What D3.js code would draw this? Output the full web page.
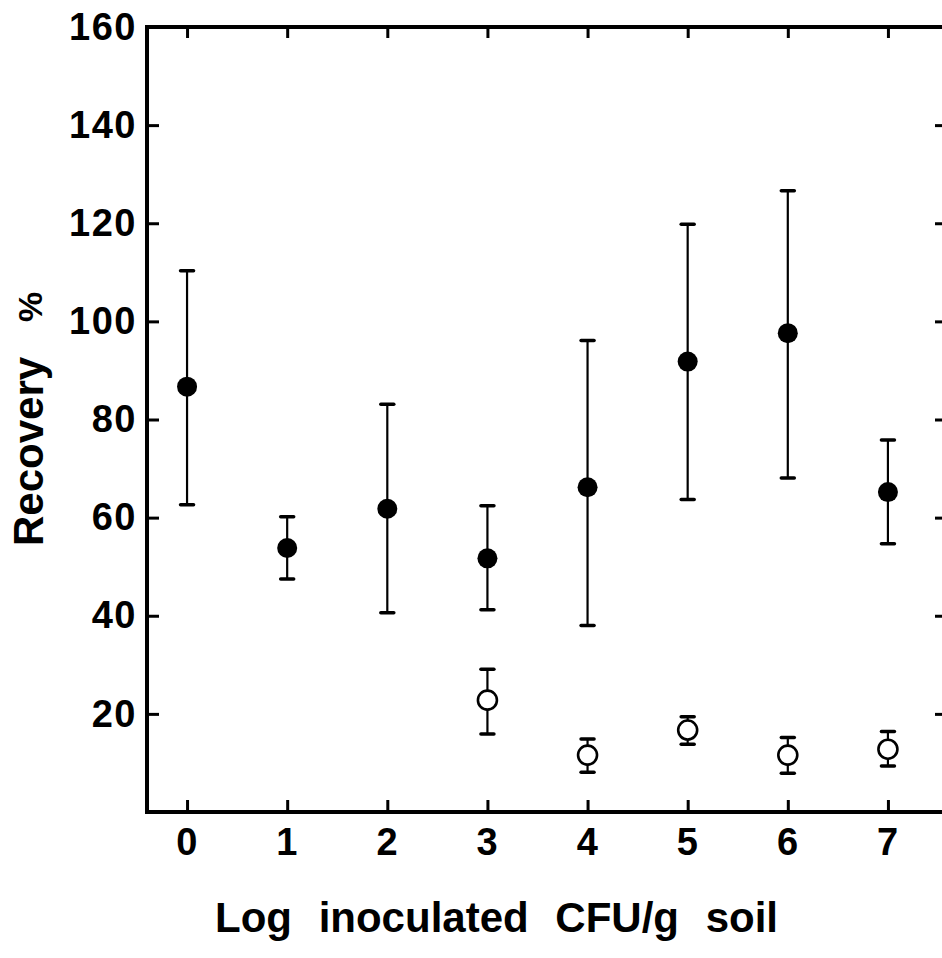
<!DOCTYPE html>
<html>
<head>
<meta charset="utf-8">
<script src="https://cdn.jsdelivr.net/npm/d3@7"></script>
<style>
  html, body { margin: 0; padding: 0; background: #fff; }
  svg { display: block; }
  text { font-family: "Liberation Sans", Arial, sans-serif; font-weight: bold; fill: #000; }
</style>
</head>
<body>
<svg id="chart" width="942" height="958"></svg>
<script>
// ---- data ----
const xCategories = [0, 1, 2, 3, 4, 5, 6, 7];
const filledMean = [86.7, 53.8, 61.8, 51.7, 66.2, 91.8, 97.6, 65.2];
const filledHi   = [110.3, 60.2, 83.1, 62.4, 96.1, 119.8, 126.6, 75.8];
const filledLo   = [62.6, 47.5, 40.6, 41.2, 38.0, 63.7, 68.1, 54.7];
const openX      = [3, 4, 5, 6, 7];
const openMean   = [22.8, 11.6, 16.7, 11.6, 12.8];
const openHi     = [29.1, 14.9, 19.4, 15.2, 16.4];
const openLo     = [15.9, 8.1, 13.8, 7.9, 9.4];
const yTickValues = [20, 40, 60, 80, 100, 120, 140, 160];
const xTickValues = [0, 1, 2, 3, 4, 5, 6, 7];
const xTitle = "Log inoculated CFU/g soil";
const yTitle = "Recovery";
const yUnit = "%";

// ---- layout ----
const plotLeft = 147, plotRight = 946, plotTop = 27, plotBottom = 812;
const svg = d3.select("#chart");

const x = d3.scaleLinear().domain([-0.4, 7.58]).range([plotLeft, plotRight]);
const y = d3.scaleLinear().domain([0, 160]).range([plotBottom, plotTop]);

// axes
const gLeft = svg.append("g").attr("transform", `translate(${plotLeft},0)`)
  .call(d3.axisLeft(y).tickValues(yTickValues).tickSizeInner(-12).tickSizeOuter(0).tickPadding(10));
const gRight = svg.append("g").attr("transform", `translate(${plotRight},0)`)
  .call(d3.axisRight(y).tickValues(yTickValues).tickSizeInner(-11).tickSizeOuter(0).tickFormat(""));
const gBottom = svg.append("g").attr("transform", `translate(0,${plotBottom})`)
  .call(d3.axisBottom(x).tickValues(xTickValues).tickSizeInner(-12).tickSizeOuter(0).tickPadding(16));
const gTop = svg.append("g").attr("transform", `translate(0,${plotTop})`)
  .call(d3.axisTop(x).tickValues(xTickValues).tickSizeInner(-11).tickSizeOuter(0).tickFormat(""));

[gLeft, gRight, gBottom, gTop].forEach(g => {
  g.select(".domain").remove();
  g.selectAll(".tick line").attr("stroke", "#000").attr("stroke-width", 3);
  g.selectAll(".tick text").attr("font-size", 38).attr("letter-spacing", 1.5)
    .style("font-family", '"Liberation Sans", Arial, sans-serif').style("font-weight", "bold").attr("fill", "#000");
});

// frame
const frame = svg.append("g").attr("stroke", "#000").attr("stroke-width", 4).attr("fill", "none");
frame.append("path").attr("d", `M${plotRight},${plotBottom}H${plotLeft}V${plotTop}H${plotRight}V${plotBottom}`)
  .attr("stroke-linejoin", "miter");

// error bars helper
function errorBars(xs, lo, hi, cls) {
  const g = svg.append("g").attr("class", cls);
  g.selectAll("line.stem").data(xs).join("line").attr("class", "stem")
    .attr("x1", d => x(d)).attr("x2", d => x(d))
    .attr("y1", (d, i) => y(lo[i])).attr("y2", (d, i) => y(hi[i]))
    .attr("stroke", "#000").attr("stroke-width", 2.2);
  const caps = [];
  xs.forEach((d, i) => { caps.push({ xv: d, yv: lo[i] }); caps.push({ xv: d, yv: hi[i] }); });
  g.selectAll("line.cap").data(caps).join("line").attr("class", "cap")
    .attr("x1", d => x(d.xv) - 6.5).attr("x2", d => x(d.xv) + 6.5)
    .attr("y1", d => y(d.yv)).attr("y2", d => y(d.yv))
    .attr("stroke", "#000").attr("stroke-width", 3.5).attr("stroke-linecap", "round");
  return g;
}

errorBars(xCategories, filledLo, filledHi, "filled-err");
errorBars(openX, openLo, openHi, "open-err");

svg.append("g").selectAll("circle").data(xCategories).join("circle")
  .attr("cx", d => x(d)).attr("cy", (d, i) => y(filledMean[i])).attr("r", 10)
  .attr("fill", "#000");

svg.append("g").selectAll("circle").data(openX).join("circle")
  .attr("cx", d => x(d)).attr("cy", (d, i) => y(openMean[i])).attr("r", 9.5)
  .attr("fill", "#fff").attr("stroke", "#000").attr("stroke-width", 2.6);

// titles
svg.append("text")
  .attr("x", 215).attr("y", 932)
  .attr("font-size", 42)
  .attr("word-spacing", 15)
  .text(xTitle);

svg.append("text")
  .attr("transform", "translate(43,546) rotate(-90)")
  .attr("font-size", 42)
  .attr("text-anchor", "start")
  .text(yTitle);

svg.append("text")
  .attr("transform", "translate(42,322) rotate(-90)")
  .attr("font-size", 34)
  .attr("text-anchor", "start")
  .text(yUnit);
</script>
</body>
</html>
